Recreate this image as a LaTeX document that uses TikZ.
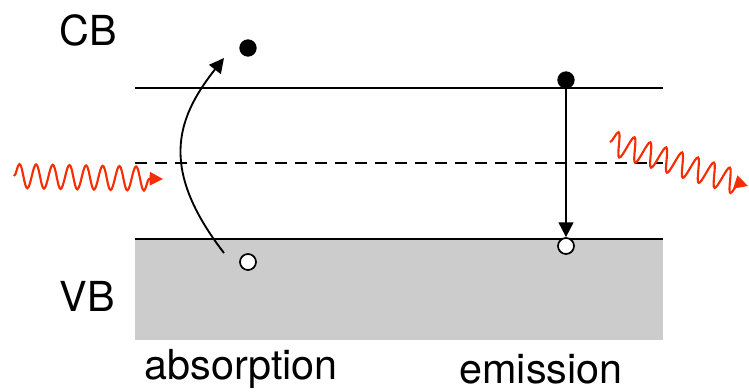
\documentclass[tikz,border=0pt]{standalone}
\usepackage{fontspec}
\setmainfont{TeX Gyre Heros}
\usetikzlibrary{arrows.meta,decorations.pathmorphing}
\definecolor{photon}{RGB}{245,45,0}
\definecolor{band}{RGB}{204,204,204}
\begin{document}
\begin{tikzpicture}[x=0.75pt,y=-0.75pt,
  level/.style={line width=1.7pt},
  dashlevel/.style={line width=1.7pt,dash pattern=on 9pt off 6pt},
  electron/.style={circle,fill=black,inner sep=0pt,minimum size=13pt},
  hole/.style={circle,draw=black,fill=white,line width=1.3pt,inner sep=0pt,minimum size=12pt},
  trans/.style={line width=1.4pt,-{Triangle[length=11pt,width=11pt]}},
  wave/.style={photon,line width=1.6pt,decorate,decoration={snake,segment length=12.5pt,amplitude=9pt,post length=7pt},-{Triangle[length=10pt,width=10pt]}},
  lbl/.style={font=\fontsize{31pt}{34pt}\selectfont,inner sep=0pt}]
\useasboundingbox (0,0) rectangle (749,392);
\fill[band] (135,239) rectangle (663,340);
\coordinate (cbL) at (135,88); \coordinate (cbR) at (663,88);
\coordinate (mL) at (135,163); \coordinate (mR) at (663,163);
\coordinate (vbL) at (135,239); \coordinate (vbR) at (663,239);
\draw[level] (cbL) -- (cbR);
\draw[dashlevel] (mL) -- (mR);
\draw[level] (vbL) -- (vbR);
\node[lbl] (cb) at (88,30) {CB};
\node[lbl] (vb) at (87,296) {VB};
\node[lbl] (abs) at (241,369) {absorption};
\node[lbl] (emi) at (541,369) {emission};
% absorption
\node[electron] (e1) at (248,48) {};
\node[hole] (h1) at (248,262) {};
\coordinate (a0) at (224,253);
\coordinate (a1) at (224,58);
\draw[trans] (a0) .. controls (160,170) and (175,120) .. (a1);
% emission
\node[electron] (e2) at (566,80) {};
\node[hole] (h2) at (566,246) {};
\draw[trans] (e2.center) -- (h2.north);
% photons
\coordinate (p0) at (14,176); \coordinate (p1) at (163,179);
\draw[wave] (p0) -- (p1);
\coordinate (q0) at (610,142); \coordinate (q1) at (748,186);
\draw[wave] (q0) -- (q1);
\end{tikzpicture}
\end{document}
